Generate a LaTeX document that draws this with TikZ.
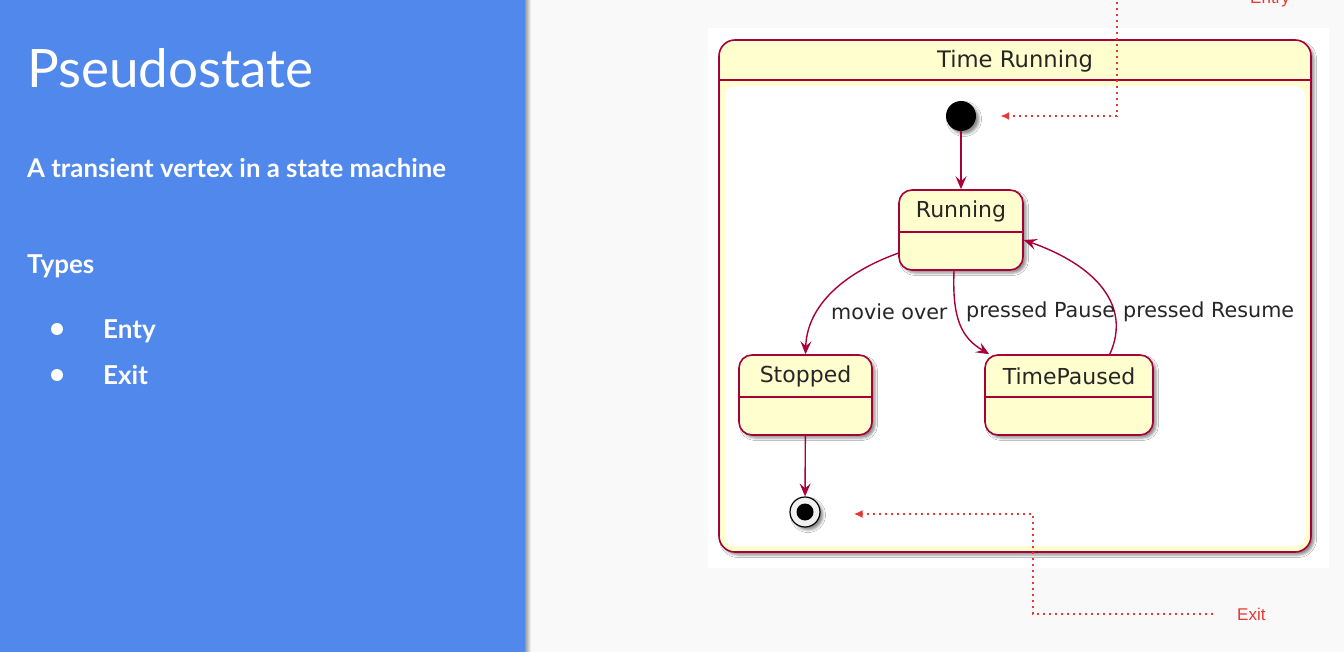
\documentclass[tikz,border=0pt]{standalone}
\usepackage{fontspec}
\setmainfont{DejaVu Sans}
\newfontfamily\slidefont{Lato}
\newfontfamily\notefont{Liberation Sans}
\usetikzlibrary{arrows.meta,calc,shadows.blur}
\definecolor{slideBlue}{RGB}{81,136,235}
\definecolor{pageGray}{RGB}{249,249,249}
\definecolor{umlRed}{RGB}{168,0,54}
\definecolor{umlYellow}{RGB}{254,254,206}
\definecolor{noteRed}{RGB}{229,57,53}
\begin{document}
\begin{tikzpicture}
[x=1pt,y=-1pt,
  umlShadow/.style={blur shadow={shadow xshift=3pt,shadow yshift=-3pt,shadow blur radius=2.5pt,shadow opacity=45}},
  stateDecorate/.style={draw=umlRed,line width=1.6pt,fill=umlYellow,rounded corners=13pt,
    minimum height=80pt,inner sep=0pt,umlShadow},
  stateLine/.style={draw=umlRed,line width=1.6pt},
  stateText/.style={inner sep=0pt,text=black!85,font=\fontsize{22}{25}\selectfont},
  labelDecorate/.style={inner sep=0pt,text=black!85,font=\fontsize{20.7}{23}\selectfont},
  arrowDecorate/.style={draw=umlRed,line width=1.4pt,-{Stealth[length=13pt,width=11pt,inset=5pt]}},
  noteDecorate/.style={draw=noteRed,line width=1.8pt,dash pattern=on 2pt off 4pt,
    -{Latex[length=9pt,width=8pt]}},
  noteText/.style={inner sep=0pt,text=noteRed,font=\notefont\fontsize{17}{20}\selectfont},
  slideBold/.style={inner sep=0pt,text=white,font=\slidefont\bfseries\fontsize{25.8}{29}\selectfont},
  bulletDecorate/.style={circle,fill=white,inner sep=0pt,minimum size=12pt}]
\useasboundingbox (0,0) rectangle (1344,652);
%% slide background
\fill[pageGray] (0,0) rectangle (1344,652);
\fill[slideBlue] (0,0) rectangle (525,652);
\shade[left color=black!40,right color=pageGray] (525,0) rectangle (531,652);
\fill[white] (708,28) rectangle (1329,568);
%% left panel text
\node (title) [anchor=base west,inner sep=0pt,text=white,font=\slidefont\fontsize{53}{58}\selectfont]
  at (27,88) {Pseudostate};
\node (subtitle) [slideBold,anchor=base west] at (27,178) {A transient vertex in a state machine};
\node (types) [slideBold,anchor=base west,font=\slidefont\bfseries\fontsize{26}{30}\selectfont]
  at (27,274) {Types};
\foreach \itemname/\itemtext/\y in {enty/Enty/338, exit/Exit/384}
{
  \node (\itemname-dot) [bulletDecorate] at (57,\y-9) {};
  \node (\itemname) [slideBold,anchor=base west,font=\slidefont\bfseries\fontsize{26}{30}\selectfont]
    at (103,\y) {\itemtext};
}
%% composite state
\node (timerunning) [stateDecorate,rounded corners=16pt,minimum width=592pt,minimum height=512pt]
  at (1015,296) {};
\fill[white,rounded corners=9pt] ($(timerunning.north west)+(7,47)$) rectangle ($(timerunning.south east)+(-7,-7)$);
\draw[stateLine] ($(timerunning.north west)+(0,41)$) -- ($(timerunning.north east)+(0,41)$);
\node (timerunning-name) [stateText,font=\fontsize{22.7}{26}\selectfont] at ($(timerunning.north)+(0,22)$) {Time Running};
%% pseudostates
\node (init) [circle,fill=black,inner sep=0pt,minimum size=30pt,umlShadow] at (961,116) {};
\node (final) [circle,draw=black,line width=1.2pt,fill=black!6,inner sep=0pt,minimum size=30pt,umlShadow,
  path picture={\fill[black] (path picture bounding box.center) circle (8.5pt);}] at (805,512) {};
%% simple states
\foreach \nodename/\statetext/\x/\y/\w in {
  running/Running/961/230/124, stopped/Stopped/805.5/395/133, timepaused/TimePaused/1069/395/168}
{
  \node (\nodename) at (\x,\y) [stateDecorate,minimum width=\w pt] {};
  \draw[stateLine] ($(\nodename.west)+(0,2)$) -- ($(\nodename.east)+(0,2)$);
  \node (\nodename-name) [stateText] at ($(\nodename.north)+(0,22)$) {\statetext};
}
%% transitions
\draw[arrowDecorate] (init) -- (running);
\draw[arrowDecorate] (stopped) -- (final);
\draw[arrowDecorate] ($(running.south west)+(1,-18)$) .. controls (845,272) and (807,305) .. (stopped.north);
\draw[arrowDecorate] ($(running.south)+(-7,0)$) .. controls (952,320) and (962,338) .. ($(timepaused.north west)+(5,0)$);
\draw[arrowDecorate] ($(timepaused.north east)+(-44,0)$) .. controls (1132,305) and (1095,265) .. ($(running.east)+(0,10)$);
\node (movieover) [labelDecorate,anchor=west] at (831,312) {movie over};
\node (pressedpause) [labelDecorate,anchor=west] at (966,312) {pressed Pause};
\node (pressedresume) [labelDecorate,anchor=west] at (1123,312) {pressed Resume};
%% notes
\node (entrylabel) [noteText,anchor=base west] at (1250,3.5) {Entry};
\coordinate (entryTop) at (1117,-10);
\coordinate (entryBend) at (1117,116);
\draw[noteDecorate] (entryTop) -- (entryBend) -- ($(init.east)+(24,0)$);
\node (exitlabel) [noteText,anchor=west] at (1237,614) {Exit};
\coordinate (exitBend) at (1033,514);
\draw[noteDecorate] ($(exitlabel.west)+(-24,0)$) -| (exitBend) -- ($(final.east)+(33,2)$);
\end{tikzpicture}
\end{document}
